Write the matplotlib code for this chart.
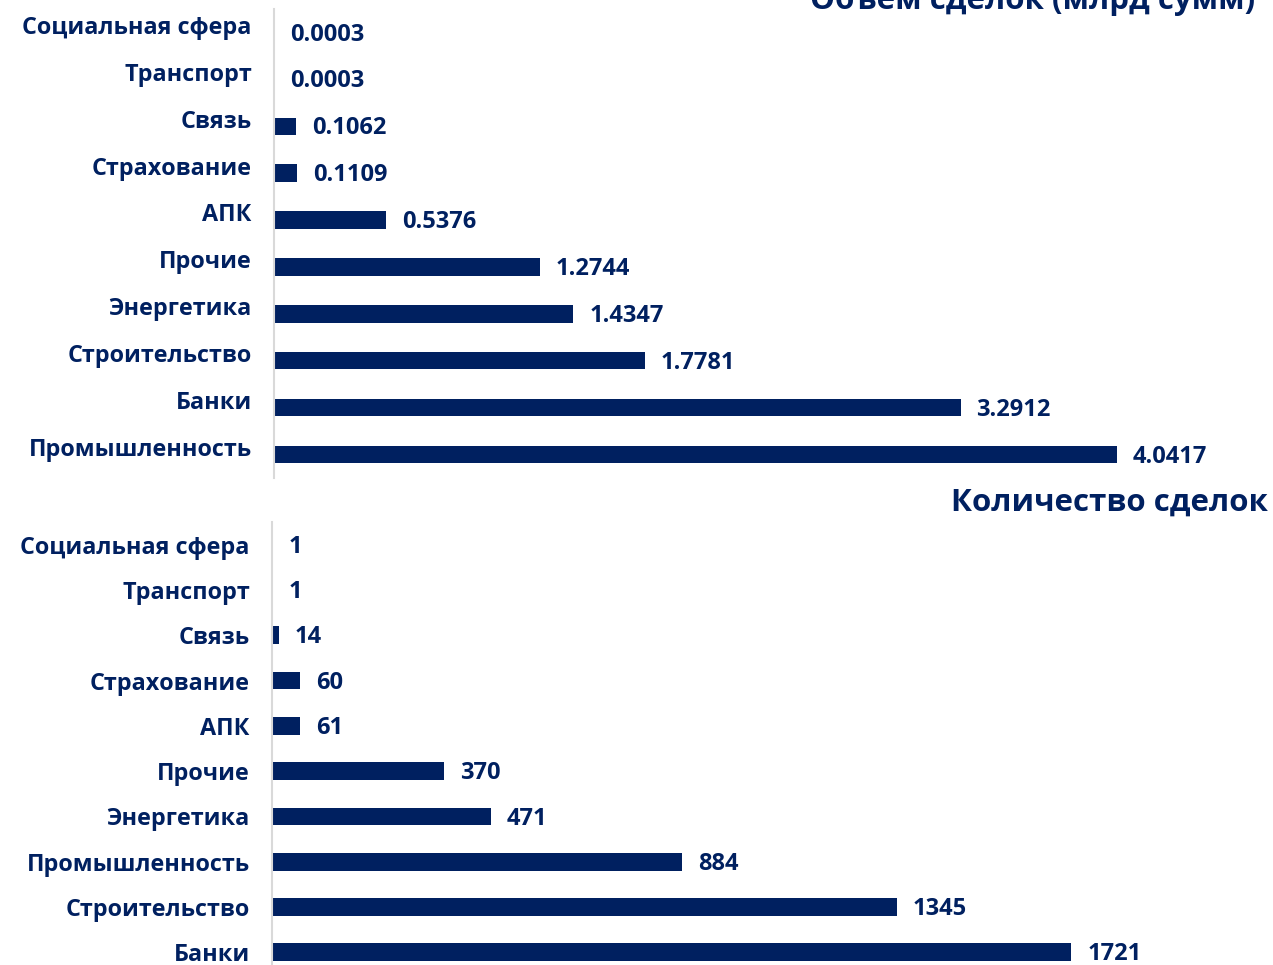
import numpy as np
import matplotlib.pyplot as plt
from matplotlib.transforms import ScaledTranslation

plt.rcParams['font.family'] = ['Open Sans', 'DejaVu Sans']

# top chart - volume of deals
cat_vol = ['Социальная сфера', 'Транспорт', 'Связь', 'Страхование', 'АПК',
           'Прочие', 'Энергетика', 'Строительство', 'Банки', 'Промышленность']
val_vol = [0.0003, 0.0003, 0.1062, 0.1109, 0.5376, 1.2744, 1.4347, 1.7781, 3.2912, 4.0417]

# bottom chart - number of deals
cat_cnt = ['Социальная сфера', 'Транспорт', 'Связь', 'Страхование', 'АПК',
           'Прочие', 'Энергетика', 'Промышленность', 'Строительство', 'Банки']
val_cnt = [1, 1, 14, 60, 61, 370, 471, 884, 1345, 1721]

navy = '#002060'
W, H = 1273, 965
fig = plt.figure(figsize=(W / 100, H / 100), dpi=100)

ax1 = fig.add_axes([274 / W, (H - 478) / H, (1255 - 274) / W, (478 - 9) / H])
ax2 = fig.add_axes([272 / W, 0, (1268 - 272) / W, (965 - 522) / H])


def draw(ax, cats, vals, fmt, height, xmax, ymax, lab_shift):
    y = np.arange(len(cats))
    ax.barh(y, vals, height=height, color=navy)
    ax.set_xlim(0, xmax)
    ax.set_ylim(ymax, -0.5)
    ax.set_yticks(y, cats)
    ax.tick_params(axis='y', length=0, pad=16, labelsize=16.8, labelcolor=navy)
    for lab in ax.get_yticklabels():
        lab.set_fontweight('bold')
        lab.set_transform(lab.get_transform() + ScaledTranslation(0, lab_shift / 72, fig.dpi_scale_trans))
    ax.set_xticks([])
    for s in ['top', 'right', 'bottom']:
        ax.spines[s].set_visible(False)
    ax.spines['left'].set_color('#d9d9d9')
    ax.spines['left'].set_linewidth(1.5)
    for yi, v in zip(y, vals):
        ax.annotate(fmt(v), (v, yi), xytext=(11.5, -1.5), textcoords='offset points',
                    ha='left', va='center', fontsize=17, fontweight='bold', color=navy)


draw(ax1, cat_vol, val_vol, lambda v: '%.4f' % v, 0.37, 4.703, 9.5, 5.5)
draw(ax2, cat_cnt, val_cnt, lambda v: '%d' % v, 0.39, 2145, 9.28, 0)

fig.text(1255 / W, (H - 9) / H, 'Объем сделок (млрд сумм)', ha='right', va='baseline',
         fontsize=22.5, fontweight='bold', color=navy)
fig.text(1268 / W, (H - 511) / H, 'Количество сделок', ha='right', va='baseline',
         fontsize=22.5, fontweight='bold', color=navy)

fig.savefig('out.png', dpi=100)
